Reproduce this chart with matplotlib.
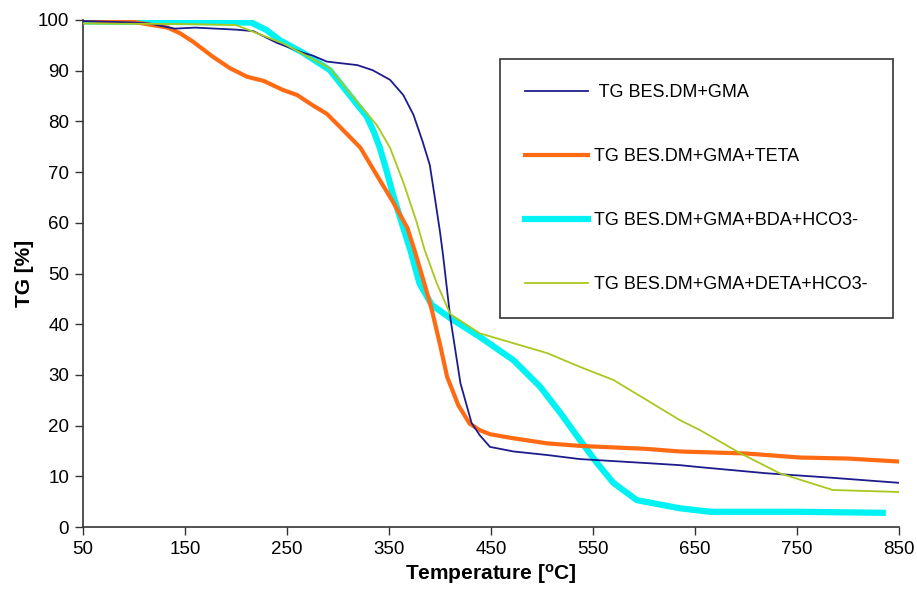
import numpy as np
import matplotlib
matplotlib.use("Agg")
from matplotlib import pyplot as plt

plt.rcParams['font.family'] = ['Liberation Sans', 'DejaVu Sans']
plt.rcParams['mathtext.fontset'] = 'custom'
plt.rcParams['mathtext.bf'] = 'Liberation Sans:bold'
plt.rcParams['mathtext.rm'] = 'Liberation Sans'

# TG BES.DM+GMA
t_gma = [50, 100, 115, 140, 160, 200, 217, 240, 266, 275, 289, 319, 334, 351, 364,
         374, 383, 390, 395, 400, 403, 410, 420, 431, 439, 449, 472, 505, 537, 603,
         635, 655, 720, 785, 851]
tg_gma = [99.8, 99.5, 99.3, 98.3, 98.5, 98.1, 97.8, 95.5, 93.5, 93.0, 91.8, 91.1, 90.1,
          88.2, 85.2, 81.3, 76.0, 71.4, 64.9, 58.2, 53.6, 41.4, 28.4, 20.5, 18.1, 15.8,
          14.9, 14.2, 13.4, 12.6, 12.2, 11.8, 10.6, 9.7, 8.7]

# TG BES.DM+GMA+TETA
t_teta = [50, 100, 133, 145, 158, 177, 194, 211, 227, 246, 260, 275, 289, 302, 322,
          338, 354, 368, 375, 384, 392, 400, 407, 418, 429, 439, 449, 472, 505, 537,
          603, 635, 700, 753, 800, 851]
tg_teta = [100, 99.6, 98.5, 97.4, 95.7, 92.8, 90.5, 88.8, 88.0, 86.2, 85.2, 83.2, 81.5,
           78.9, 74.8, 69.4, 64.1, 59.0, 54.6, 48.5, 42.8, 36.0, 29.6, 24.0, 20.4, 19.1,
           18.3, 17.5, 16.5, 16.0, 15.4, 14.9, 14.5, 13.7, 13.5, 12.9]

# TG BES.DM+GMA+BDA+HCO3-
t_bda = [50, 150, 215, 230, 243, 266, 292, 309, 320, 328, 335, 341, 348, 354, 364,
         371, 380, 392, 410, 439, 472, 498, 518, 537, 554, 570, 593, 635, 665, 750, 834]
tg_bda = [99.7, 99.6, 99.5, 98.0, 96.0, 93.5, 90.1, 85.8, 83.0, 81.0, 78.0, 74.8, 70.0,
          65.5, 59.0, 54.6, 48.0, 43.8, 41.2, 37.5, 32.9, 27.7, 22.5, 17.2, 12.6, 8.7,
          5.3, 3.7, 3.0, 3.0, 2.8]

# TG BES.DM+GMA+DETA+HCO3-
t_deta = [50, 150, 200, 246, 292, 319, 338, 351, 364, 377, 385, 397, 410, 439, 505,
          537, 570, 603, 635, 655, 694, 733, 785, 851]
tg_deta = [99.3, 99.2, 99.0, 95.4, 90.5, 83.8, 79.3, 74.8, 68.0, 60.2, 54.6, 48.0, 42.0,
           38.2, 34.3, 31.6, 29.0, 25.0, 21.1, 19.1, 14.6, 10.6, 7.3, 6.9]

labels = [' TG BES.DM+GMA', 'TG BES.DM+GMA+TETA',
          'TG BES.DM+GMA+BDA+HCO3-', 'TG BES.DM+GMA+DETA+HCO3-']

W, H = 917, 604
fig = plt.figure(figsize=(W / 100, H / 100), dpi=100)
ax = fig.add_axes([83 / W, 1 - 527 / H, (899 - 83) / W, (527 - 20) / H])

l3, = ax.plot(t_bda, tg_bda, color='#00f2f2', lw=4.5, zorder=2,
              solid_joinstyle='round')
l2, = ax.plot(t_teta, tg_teta, color='#ff6a13', lw=3.0, zorder=3,
              solid_joinstyle='round')
l1, = ax.plot(t_gma, tg_gma, color='#1c1c8c', lw=1.3, zorder=4)
l4, = ax.plot(t_deta, tg_deta, color='#a8c81e', lw=1.3, zorder=5)

ax.set_xlim(50, 850)
ax.set_ylim(0, 100)
ax.set_xticks(np.arange(50, 851, 100))
ax.set_yticks(np.arange(0, 101, 10))

for s in ['top', 'right']:
    ax.spines[s].set_visible(False)
for s in ['left', 'bottom']:
    ax.spines[s].set_color('#333333')
    ax.spines[s].set_linewidth(1.2)
ax.tick_params(axis='both', direction='out', length=6, width=1, color='#333333',
               labelsize=13.5, pad=4)

ax.set_xlabel('Temperature [$\\mathbf{^{o}}$C]', fontsize=15, fontweight='bold',
              labelpad=3)
ax.set_ylabel('TG [%]', fontsize=15, fontweight='bold', labelpad=3)

leg = ax.legend([l1, l2, l3, l4], labels, loc='upper left',
                bbox_to_anchor=(500 / W, 1 - 59 / H), bbox_transform=fig.transFigure,
                fontsize=13, frameon=True, fancybox=False, handlelength=3.5,
                labelspacing=2.6, borderpad=1.4, handletextpad=0.3, borderaxespad=0)
leg.get_frame().set_edgecolor('black')
leg.get_frame().set_linewidth(1.2)

fig.savefig('out.png', dpi=100)
